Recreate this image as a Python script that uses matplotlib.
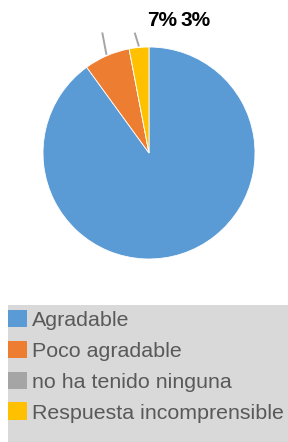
import numpy as np
import matplotlib.pyplot as plt
from matplotlib.patches import Rectangle

categorias = ['Agradable', 'Poco agradable', 'no ha tenido ninguna', 'Respuesta incomprensible']
valores = [90, 7, 0, 3]
colores = ['#5B9BD5', '#ED7D31', '#A5A5A5', '#FFC000']
etiquetas = ['', '7%', '', '3%']

W, H = 288, 442
cx, cy, R = 149, 153, 106   # centro y radio en pixeles

fig = plt.figure(figsize=(W / 100, H / 100), dpi=100)
ax = fig.add_axes([0, 0, 1, 1])
ax.axis('off')

wedges, _ = ax.pie(valores, colors=colores, startangle=90, counterclock=False,
                   radius=1, wedgeprops=dict(edgecolor='white', linewidth=0.6))
ax.set_xlim(-cx / R, (W - cx) / R)
ax.set_ylim(-(H - cy) / R, cy / R)

# lineas guia y etiquetas
desp = {'7%': (-0.04, 0.21), '3%': (-0.04, 0.13)}
pos_txt = {'7%': (0.125, 1.25), '3%': (0.435, 1.25)}
for w, et in zip(wedges, etiquetas):
    if not et:
        continue
    ang = np.deg2rad((w.theta1 + w.theta2) / 2)
    x0, y0 = 1.01 * np.cos(ang), 1.01 * np.sin(ang)
    ax.plot([x0, x0 + desp[et][0]], [y0, y0 + desp[et][1]],
            color='#A5A5A5', lw=1.4, solid_capstyle='butt')
    ax.text(*pos_txt[et], et, ha='center', va='center', fontsize=15,
            fontweight='bold', family='Liberation Sans', color='black')

# caja de leyenda
fig.patches.append(Rectangle((8 / W, 0), 1, (H - 305) / H, transform=fig.transFigure,
                             facecolor='#D9D9D9', edgecolor='none', zorder=0))
leg = fig.legend(wedges, categorias, loc='upper left', bbox_to_anchor=(8 / W, (H - 310) / H),
                 frameon=False, borderpad=0, borderaxespad=0,
                 handlelength=0.88, handleheight=0.88, handletextpad=0.22,
                 labelspacing=0.5, prop={'family': 'Liberation Sans', 'size': 15.4})
for t in leg.get_texts():
    t.set_color('#595959')
for h in leg.legend_handles:
    h.set_edgecolor('none')

plt.savefig('out.png', dpi=100)
